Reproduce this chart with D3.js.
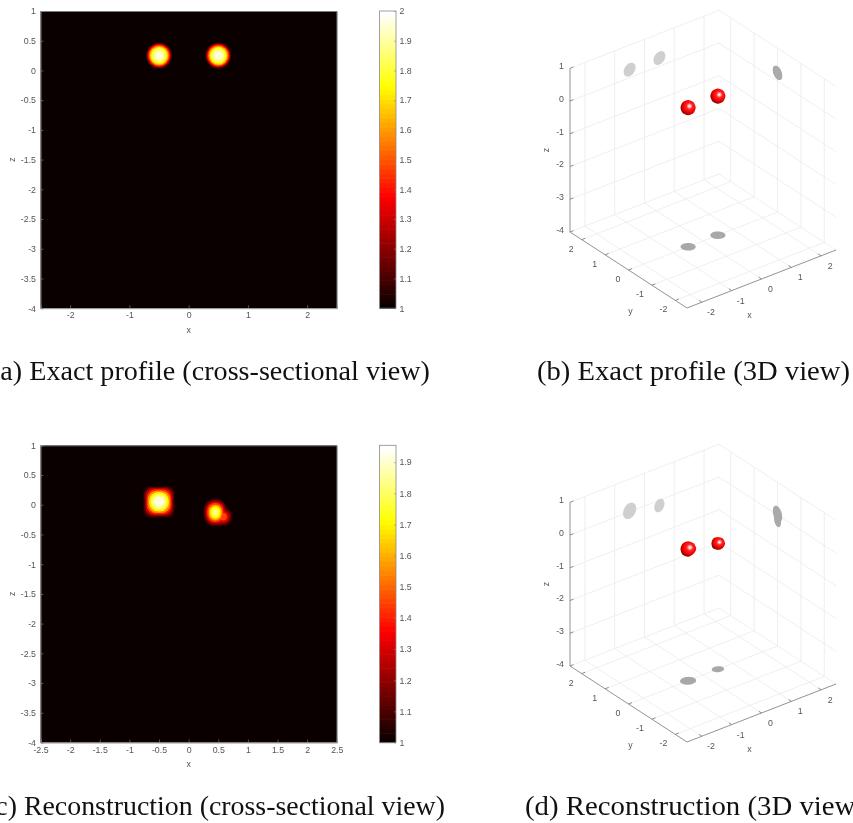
<!DOCTYPE html>
<html>
<head>
<meta charset="utf-8">
<script src="https://cdn.jsdelivr.net/npm/d3@7"></script>
<style>
  html, body { margin: 0; background: #fff; overflow: hidden; }
  svg { filter: blur(0.35px); }
  text { font-family: "Liberation Sans", Arial, sans-serif; font-size: 8.8px; fill: #555; }
  .caption { font-family: "Liberation Serif", serif; font-size: 26.5px; fill: #111; }
</style>
</head>
<body>
<script>
// tick labels
const zTicks = [1, 0.5, 0, -0.5, -1, -1.5, -2, -2.5, -3, -3.5, -4]
const xTicksCoarse = [-2, -1, 0, 1, 2]
const xTicksFine = [-2.5, -2, -1.5, -1, -0.5, 0, 0.5, 1, 1.5, 2, 2.5]
const barTicksExact = [1, 1.1, 1.2, 1.3, 1.4, 1.5, 1.6, 1.7, 1.8, 1.9, 2]
const barTicksRecon = [1, 1.1, 1.2, 1.3, 1.4, 1.5, 1.6, 1.7, 1.8, 1.9]
const grid3d = [-2, -1, 0, 1, 2]
const gridZ = [-4, -3, -2, -1, 0, 1]

// hot colormap stops (fraction of the range -> colour)
const hotStops = [0, 0.375, 0.75, 1]
const hotColors = ["#0a0000", "#ff0000", "#ffff00", "#ffffff"]

// exact profile: level sets of the two inclusions
const exactLevels = [1.04, 1.1, 1.2, 1.3, 1.4, 1.5, 1.6, 1.7, 1.8, 1.9, 1.97]
const exactRadii = [0.222, 0.214, 0.204, 0.194, 0.184, 0.173, 0.162, 0.15, 0.13, 0.1, 0.06]
const exactCentresX = [-0.5, 0.5]
const exactCentresZ = [0.25, 0.25]

// reconstruction: left blob is squarish, right one has a dim lobe
const reconLeftLevels = [1.04, 1.12, 1.25, 1.4, 1.55, 1.7, 1.82, 1.92]
const reconLeftHalf = [0.27, 0.25, 0.23, 0.21, 0.19, 0.165, 0.13, 0.09]
const reconLeftCorner = [0.11, 0.12, 0.13, 0.14, 0.15, 0.15, 0.13, 0.09]
const reconRightLevels = [1.04, 1.15, 1.3, 1.45, 1.6, 1.72, 1.84]
const reconRightHalfX = [0.2, 0.185, 0.16, 0.135, 0.11, 0.085, 0.05]
const reconRightHalfZ = [0.245, 0.22, 0.19, 0.16, 0.13, 0.1, 0.055]
const reconLobeLevels = [1.04, 1.12, 1.22, 1.34, 1.46]
const reconLobeHalf = [0.165, 0.145, 0.12, 0.09, 0.06]

// 3D spheres: centre and radius per direction
const exactSpheres = [
  { x: -0.5, y: 0, z: 0.25, rx: 0.2, ry: 0.2, rz: 0.2, outline: [1, 1, 1, 1, 1, 1, 1, 1] },
  { x: 0.5, y: 0, z: 0.25, rx: 0.2, ry: 0.2, rz: 0.2, outline: [1, 1, 1, 1, 1, 1, 1, 1] }
]
const reconSpheres = [
  { x: -0.5, y: 0, z: 0.03, rx: 0.22, ry: 0.2, rz: 0.24, outline: [1.02, 1.04, 1.08, 0.98, 1.05, 1.06, 1.0, 1.0] },
  { x: 0.5, y: 0, z: -0.16, rx: 0.17, ry: 0.15, rz: 0.2, outline: [0.86, 0.92, 0.94, 0.88, 0.84, 0.9, 0.85, 0.9] }
]

const svg = d3.select("body").append("svg")
  .attr("width", 853)
  .attr("height", 823)

const defs = svg.append("defs")

const blurF = defs.append("filter").attr("id", "soft")
  .attr("x", "-5%").attr("y", "-5%").attr("width", "110%").attr("height", "110%")
blurF.append("feGaussianBlur").attr("stdDeviation", 0.6)

const lightBlur = defs.append("filter").attr("id", "soft3d")
  .attr("x", "-30%").attr("y", "-30%").attr("width", "160%").attr("height", "160%")
lightBlur.append("feGaussianBlur").attr("stdDeviation", 0.3)

// sphere shading, highlight up and to the right of the centre
const ball = defs.append("radialGradient").attr("id", "ball")
  .attr("cx", 0.57).attr("cy", 0.42).attr("r", 0.68)
  .attr("fx", 0.6).attr("fy", 0.4)
const ballOffsets = [0, 0.12, 0.3, 0.62, 0.82, 0.94, 1]
const ballColors = ["#ffffff", "#ffc0c0", "#ff2525", "#f00000", "#a00000", "#300000", "#0a0000"]
ballOffsets.forEach((o, i) => ball.append("stop").attr("offset", o).attr("stop-color", ballColors[i]))

// draw one cross-section with its colorbar
function heatPanel(top, xTicks, barTicks, barMax, blobs) {
  const x = d3.scaleLinear().domain([-2.5, 2.5]).range([40.5, 336.8])
  const z = d3.scaleLinear().domain([-4, 1]).range([top + 297.2, top])
  const hot = d3.scaleLinear()
    .domain(hotStops.map(s => 1 + s * (barMax - 1)))
    .range(hotColors)

  const clipId = "clip" + Math.round(top)
  defs.append("clipPath").attr("id", clipId).append("rect")
    .attr("x", x(-2.5)).attr("y", z(1))
    .attr("width", x(2.5) - x(-2.5)).attr("height", z(-4) - z(1))

  svg.append("rect")
    .attr("x", x(-2.5)).attr("y", z(1))
    .attr("width", x(2.5) - x(-2.5)).attr("height", z(-4) - z(1))
    .attr("fill", hotColors[0])

  // every level set of the panel, lowest value painted first
  const shapes = blobs.flatMap(b => b.levels.map((v, i) => ({
    v: v, cx: b.cx, cz: b.cz,
    hx: b.hx[i], hz: b.hz[i], corner: b.corner[i]
  }))).sort((a, b) => a.v - b.v)

  const unit = x(1) - x(0)
  svg.append("g")
    .attr("clip-path", `url(#${clipId})`)
    .append("g")
    .attr("filter", "url(#soft)")
    .selectAll("rect")
    .data(shapes)
    .join("rect")
    .attr("x", d => x(d.cx - d.hx))
    .attr("y", d => z(d.cz + d.hz))
    .attr("width", d => x(d.hx) - x(0) + x(d.hx) - x(0))
    .attr("height", d => z(-d.hz) - z(d.hz))
    .attr("rx", d => d.corner * unit)
    .attr("ry", d => d.corner * unit)
    .attr("fill", d => hot(d.v))

  // axes
  const xAxis = d3.axisBottom(x).tickValues(xTicks).tickFormat(d => String(d)).tickSize(-3).tickPadding(4)
  const zAxis = d3.axisLeft(z).tickValues(zTicks).tickFormat(d => String(d)).tickSize(-3).tickPadding(4.5)
  const gx = svg.append("g").attr("transform", `translate(0,${z(-4)})`).call(xAxis)
  const gz = svg.append("g").attr("transform", `translate(${x(-2.5)},0)`).call(zAxis)
  const gxTop = svg.append("g").attr("transform", `translate(0,${z(1)})`).call(d3.axisTop(x).tickValues([]).tickSize(0))
  const gzRight = svg.append("g").attr("transform", `translate(${x(2.5)},0)`).call(d3.axisRight(z).tickValues([]).tickSize(0))
  ;[gx, gz, gxTop, gzRight].forEach(g => {
    g.attr("font-family", null).attr("font-size", null)
    g.select(".domain").attr("stroke", "#8a8a8a").attr("stroke-width", 0.9)
    g.selectAll(".tick line").attr("stroke", "#8a8a8a").attr("stroke-width", 0.6)
    g.selectAll("text").attr("fill", null)
  })

  svg.append("text").attr("x", x(0)).attr("y", z(-4) + 24.5)
    .attr("text-anchor", "middle").text("x")
  svg.append("text")
    .attr("transform", `translate(15,${z(-1.5)}) rotate(-90)`)
    .attr("text-anchor", "middle").text("z")

  // colorbar
  const barY = d3.scaleLinear().domain([1, barMax]).range([z(-4), z(1)])
  const steps = d3.range(64).map(i => 1 + i * (barMax - 1) / 63)
  const stepH = (barY(1) - barY(barMax)) / 64
  svg.append("g").selectAll("rect")
    .data(steps)
    .join("rect")
    .attr("x", 379.5)
    .attr("y", (d, i) => barY(1) - (i + 1) * stepH)
    .attr("width", 16.5)
    .attr("height", stepH + 0.6)
    .attr("fill", d => hot(d))
  svg.append("rect")
    .attr("x", 379.5).attr("y", barY(barMax))
    .attr("width", 16.5).attr("height", barY(1) - barY(barMax))
    .attr("fill", "none").attr("stroke", "#8a8a8a").attr("stroke-width", 0.8)
  const gBar = svg.append("g").attr("transform", "translate(396,0)")
    .call(d3.axisRight(barY).tickValues(barTicks).tickFormat(d => String(d)).tickSize(-2).tickPadding(3.5))
  gBar.attr("font-family", null).attr("font-size", null)
  gBar.select(".domain").remove()
  gBar.selectAll(".tick line").attr("stroke", "#8a8a8a").attr("stroke-width", 0.6)
  gBar.selectAll("text").attr("fill", null)
}

// draw one 3D view
function view3d(top, spheres) {
  // how far each data axis moves on the screen
  const xToH = d3.scaleLinear().domain([-2.5, 2.5]).range([0, 149])
  const xToV = d3.scaleLinear().domain([-2.5, 2.5]).range([0, -58])
  const yToH = d3.scaleLinear().domain([-2.5, 2.5]).range([0, -117])
  const yToV = d3.scaleLinear().domain([-2.5, 2.5]).range([0, -76])
  const zToV = d3.scaleLinear().domain([-4, 1]).range([0, -163.7])
  const frontX = 687, frontY = top + 308

  const project = (x, y, z) => [
    frontX + xToH(x) + yToH(y),
    frontY + xToV(x) + yToV(y) + zToV(z)
  ]
  const path = d3.line()
  const seg = (a, b) => path([project(...a), project(...b)])

  // true screen size of one data unit, used for the sphere outlines
  const unit = Math.hypot(149 / 5, 117 / 5)

  const g = svg.append("g")

  // grid on the two back walls and the floor
  const lines = []
  grid3d.forEach(v => {
    lines.push([[v, -2.5, -4], [v, 2.5, -4]])
    lines.push([[-2.5, v, -4], [2.5, v, -4]])
    lines.push([[v, 2.5, -4], [v, 2.5, 1]])
    lines.push([[2.5, v, -4], [2.5, v, 1]])
  })
  gridZ.forEach(v => {
    lines.push([[-2.5, 2.5, v], [2.5, 2.5, v]])
    lines.push([[2.5, 2.5, v], [2.5, -2.5, v]])
  })
  g.append("g").selectAll("path")
    .data(lines)
    .join("path")
    .attr("d", d => seg(d[0], d[1]))
    .attr("fill", "none")
    .attr("stroke", "#ebebeb")
    .attr("stroke-width", 0.8)

  // shadows on walls and floor are the sphere outlines flattened onto each plane
  const angles = d3.range(0, 2 * Math.PI, Math.PI / 18)
  const closed = d3.line().curve(d3.curveLinearClosed)
  const shadowGroup = g.append("g").attr("filter", "url(#soft3d)")
  spheres.forEach(s => {
    shadowGroup.append("path")
      .attr("d", closed(angles.map(a => project(s.x + s.rx * Math.cos(a), 2.5, s.z + s.rz * Math.sin(a)))))
      .attr("fill", "#cfcfcf")
    shadowGroup.append("path")
      .attr("d", closed(angles.map(a => project(2.5, s.y + s.ry * Math.cos(a), s.z + s.rz * Math.sin(a)))))
      .attr("fill", "#aaaaaa")
    shadowGroup.append("path")
      .attr("d", closed(angles.map(a => project(s.x + s.rx * Math.cos(a), s.y + s.ry * Math.sin(a), -4))))
      .attr("fill", "#a8a8a8")
  })

  // spheres
  const blob = d3.lineRadial().curve(d3.curveCardinalClosed.tension(0.2))
  g.append("g").attr("filter", "url(#soft3d)").selectAll("path")
    .data(spheres)
    .join("path")
    .attr("transform", d => `translate(${project(d.x, d.y, d.z)})`)
    .attr("d", d => blob(d.outline.map((k, i) => [i * Math.PI / 4, k * 0.2 * unit])))
    .attr("fill", "url(#ball)")

  // axis lines
  const axes = g.append("g").attr("fill", "none").attr("stroke", "#777").attr("stroke-width", 0.8)
  axes.append("path").attr("d", seg([-2.5, 2.5, -4], [-2.5, 2.5, 1]))
  axes.append("path").attr("d", seg([-2.5, 2.5, -4], [-2.5, -2.5, -4]))
  axes.append("path").attr("d", seg([-2.5, -2.5, -4], [2.5, -2.5, -4]))

  gridZ.forEach(v => {
    axes.append("path").attr("d", seg([-2.5, 2.5, v], [-2.38, 2.5, v]))
    const p = project(-2.5, 2.5, v)
    g.append("text").attr("x", p[0] - 6).attr("y", p[1]).attr("dy", "0.1em")
      .attr("text-anchor", "end").text(v)
  })
  grid3d.forEach(v => {
    axes.append("path").attr("d", seg([-2.5, v, -4], [-2.38, v, -4]))
    axes.append("path").attr("d", seg([v, -2.5, -4], [v, -2.38, -4]))
    const py = project(-2.5, v, -4)
    g.append("text").attr("x", py[0] - 8).attr("y", py[1] + 12)
      .attr("text-anchor", "end").text(v)
    const px = project(v, -2.5, -4)
    g.append("text").attr("x", px[0] + 9).attr("y", px[1] + 13)
      .attr("text-anchor", "middle").text(v)
  })

  const xl = project(0, -2.5, -4), yl = project(-2.5, 0, -4), zl = project(-2.5, 2.5, -1.5)
  g.append("text").attr("x", xl[0] - 12).attr("y", xl[1] + 39)
    .attr("text-anchor", "middle").text("x")
  g.append("text").attr("x", yl[0] + 2).attr("y", yl[1] + 44)
    .attr("text-anchor", "middle").text("y")
  g.append("text")
    .attr("transform", `translate(${zl[0] - 21},${zl[1]}) rotate(-90)`)
    .attr("text-anchor", "middle").text("z")
}

const exactBlobs = exactCentresX.map((cx, i) => ({
  cx: cx, cz: exactCentresZ[i], levels: exactLevels,
  hx: exactRadii, hz: exactRadii, corner: exactRadii
}))
const reconBlobs = [
  { cx: -0.5, cz: 0.05, levels: reconLeftLevels, hx: reconLeftHalf, hz: reconLeftHalf, corner: reconLeftCorner },
  { cx: 0.45, cz: -0.13, levels: reconRightLevels, hx: reconRightHalfX, hz: reconRightHalfZ, corner: reconRightHalfX },
  { cx: 0.58, cz: -0.2, levels: reconLobeLevels, hx: reconLobeHalf, hz: reconLobeHalf, corner: reconLobeHalf }
]

heatPanel(11, xTicksCoarse, barTicksExact, 2, exactBlobs)
heatPanel(445.3, xTicksFine, barTicksRecon, 1.954, reconBlobs)
view3d(0, exactSpheres)
view3d(434, reconSpheres)

// captions
const captionText = [
  "(a) Exact profile (cross-sectional view)",
  "(b) Exact profile (3D view)",
  "(c) Reconstruction (cross-sectional view)",
  "(d) Reconstruction (3D view)"
]
const captionLeft = [-9, 537, -14, 525]
const captionWidth = [439, 313, 459, 340]
const captionBase = [380, 380, 815, 815]

svg.append("g").selectAll("text")
  .data(captionText)
  .join("text")
  .attr("class", "caption")
  .attr("x", (d, i) => captionLeft[i])
  .attr("y", (d, i) => captionBase[i])
  .attr("textLength", (d, i) => captionWidth[i])
  .attr("lengthAdjust", "spacingAndGlyphs")
  .text(d => d)
</script>
</body>
</html>
